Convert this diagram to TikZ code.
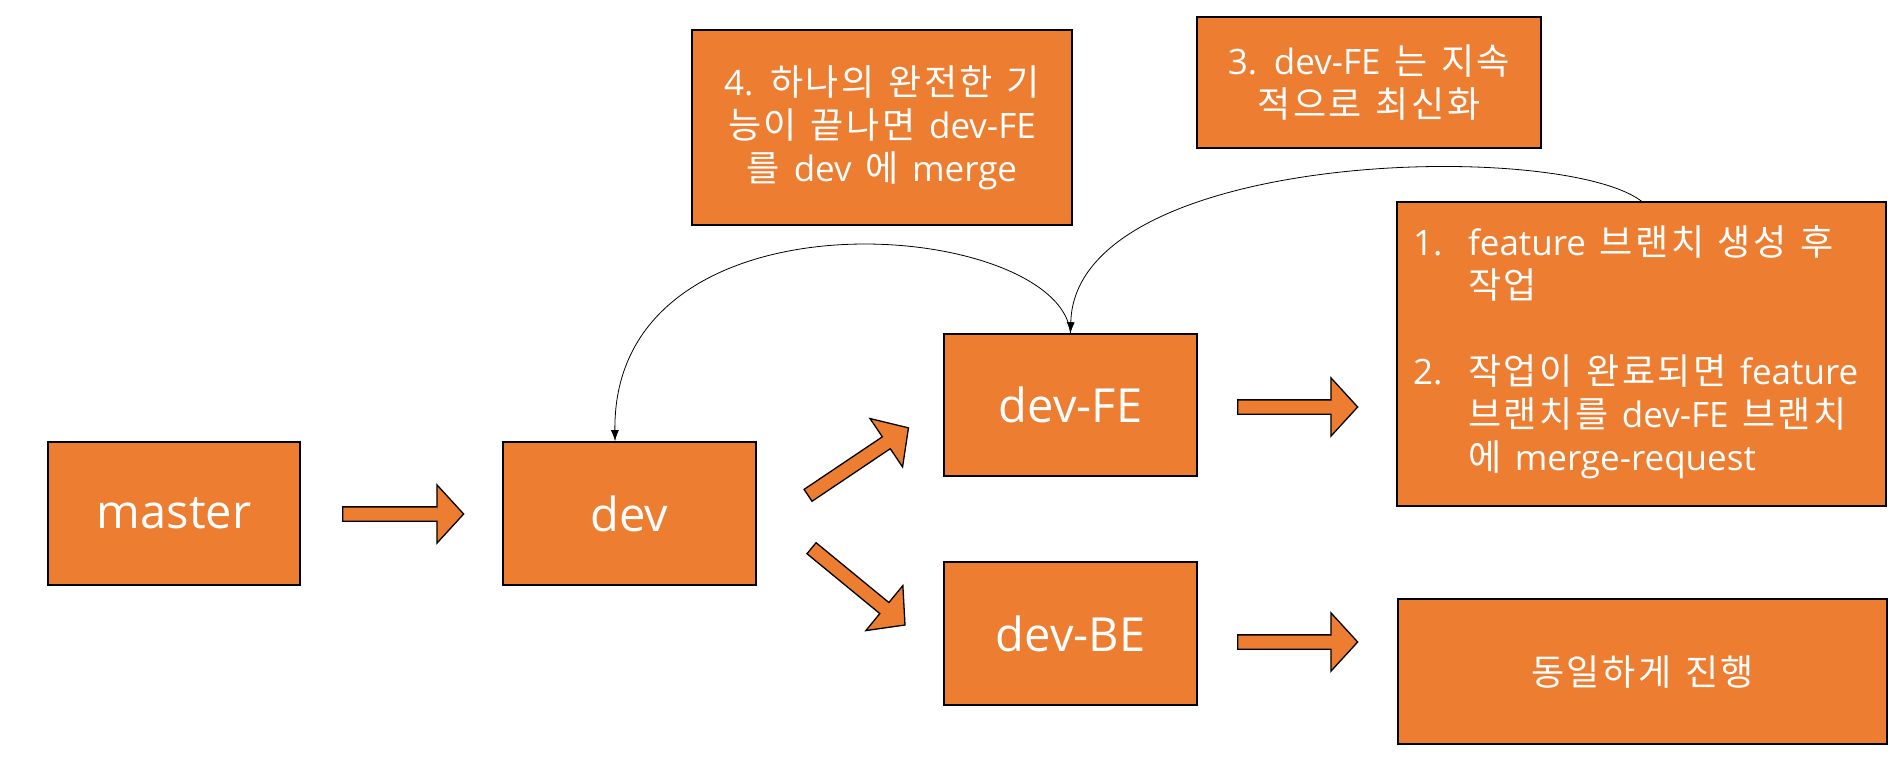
\documentclass[tikz,border=0pt]{standalone}
\usepackage{fontspec}
\setmainfont{Open Sans}[WordSpace=1.5]
\newfontfamily\krfont{Noto Sans CJK KR}[Scale=1.03,WordSpace=1.3,LetterSpace=7]
\usetikzlibrary{shapes.arrows,arrows.meta,calc}
\definecolor{og}{HTML}{ED7D31}
\newcommand\kr[1]{{\krfont #1}}
\begin{document}
\begin{tikzpicture}[x=1pt,y=-1pt,
  box/.style={draw=black, line width=1.6pt, fill=og, text=white, inner sep=0pt, align=center},
  big/.style={font=\fontsize{47}{56}\selectfont},
  txt/.style={font=\fontsize{35}{43}\selectfont},
  blk/.style={single arrow, draw=black, line width=1.3pt, fill=og, inner xsep=0pt, inner ysep=6.5pt,
    single arrow head extend=22pt, single arrow tip angle=95, anchor=tail},
  link/.style={draw=black, line width=0.8pt, -{Latex[length=11pt,width=8pt]}}]
\fill[white] (0,0) rectangle (1900,775);
\useasboundingbox (0,0) rectangle (1900,775);

% main boxes
\node[box, big, minimum width=252pt, minimum height=143pt] (master) at (174,513.5) {master};
\node[box, big, minimum width=253pt, minimum height=143pt] (dev) at (629.5,513.5) {dev};
\node[box, big, minimum width=253pt, minimum height=142pt] (devFE) at (1070.5,405) {dev-FE};
\node[box, big, minimum width=253pt, minimum height=143pt] (devBE) at (1070.5,633.5) {dev-BE};

% note boxes
\node[box, txt, minimum width=380pt, minimum height=195pt] (note4) at (882,127.5)
  {4. \kr{하나의 완전한 기}\\ \kr{능이 끝나면} dev-FE\\ \kr{를} dev \kr{에} merge};
\node[box, txt, minimum width=344pt, minimum height=131pt] (note3) at (1369,82.5)
  {3. dev-FE \kr{는 지속}\\ \kr{적으로 최신화}};
\node[box, txt, minimum width=489pt, minimum height=304pt] (note12) at (1641.5,354)
  {\makebox[457pt][l]{\begin{tabular}{@{}l@{}l@{}}
    \makebox[55pt][l]{1.} & feature \kr{브랜치 생성 후}\\
     & \kr{작업}\\
     & \\
    \makebox[55pt][l]{2.} & \kr{작업이 완료되면} feature\\
     & \kr{브랜치를} dev-FE \kr{브랜치}\\
     & \kr{에} merge-request
  \end{tabular}}};
\node[box, txt, minimum width=489pt, minimum height=145pt] (same) at (1642.5,671.5)
  {\kr{동일하게 진행}};

% block arrows
\node[blk, minimum height=121pt] (a1) at (342,514) {};
\node[blk, minimum height=121pt, rotate=33.9] (a2) at (807.5,495.7) {};
\node[blk, minimum height=121pt, rotate=-39.4] (a3) at (811,547.8) {};
\node[blk, minimum height=120pt] (a4) at (1237,407) {};
\node[blk, minimum height=120pt] (a5) at (1237,642) {};

% curved connectors
\draw[link] (note12.north) .. controls ($(note12.north)+(-81.5,-62)$) and ($(devFE.north)+(4.5,-184)$) .. (devFE.north);
\coordinate (devin) at ($(dev.north)+(-14.5,0)$);
\draw[link] (devFE.north) .. controls ($(devFE.north)+(-10.5,-114)$) and ($(devin)+(-3,-262)$) .. (devin);
\end{tikzpicture}
\end{document}
